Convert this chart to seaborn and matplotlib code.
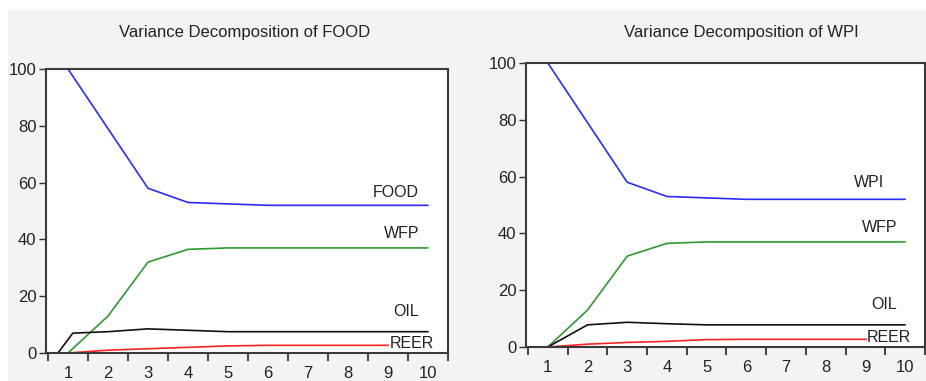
import numpy as np
import pandas as pd
import seaborn as sns
import matplotlib.pyplot as plt
from matplotlib.patches import Rectangle

# DATA
periods = [1, 2, 3, 4, 5, 6, 7, 8, 9, 10]

food_own = [100.0, 79.0, 58.0, 53.0, 52.5, 52.0, 52.0, 52.0, 52.0, 52.0]
food_wfp = [0.0, 13.0, 32.0, 36.5, 37.0, 37.0, 37.0, 37.0, 37.0, 37.0]
food_oil_periods = [0.75, 1.12, 2, 3, 4, 5, 6, 7, 8, 9, 10]
food_oil = [0.0, 7.0, 7.5, 8.5, 8.0, 7.5, 7.5, 7.5, 7.5, 7.5, 7.5]
food_reer = [0.0, 1.0, 1.5, 2.0, 2.5, 2.7, 2.7, 2.7, 2.7, 2.7]

wpi_own = [100.0, 79.0, 58.0, 53.0, 52.5, 52.0, 52.0, 52.0, 52.0, 52.0]
wpi_wfp = [0.0, 13.0, 32.0, 36.5, 37.0, 37.0, 37.0, 37.0, 37.0, 37.0]
wpi_oil = [0.0, 7.8, 8.7, 8.2, 7.8, 7.8, 7.8, 7.8, 7.8, 7.8]
wpi_reer = [0.0, 1.0, 1.6, 2.0, 2.6, 2.7, 2.7, 2.7, 2.7, 2.7]

titles = ["Variance Decomposition of FOOD", "Variance Decomposition of WPI"]
series_names = [["FOOD", "WFP", "OIL", "REER"], ["WPI", "WFP", "OIL", "REER"]]
label_pos = [
    [(9.2, 56.5), (9.35, 42), (9.45, 14.5), (9.6, 3.3)],
    [(9.1, 58), (9.35, 42), (9.47, 15), (9.6, 3.3)],
]
colors = ["#2b2bff", "#2e9a2e", "#111111", "#ff2222"]

sns.set_style("white")
plt.rcParams['font.family'] = ['Liberation Sans', 'DejaVu Sans']

fig = plt.figure(figsize=(9.26, 3.81), dpi=100)
fig.patch.set_facecolor("#f3f3f3")
# white strips at top and left of the screenshot
fig.patches.append(Rectangle((0, 1 - 10 / 381), 1, 10 / 381, transform=fig.transFigure,
                             facecolor="white", edgecolor="none", zorder=-1))
fig.patches.append(Rectangle((0, 0), 8 / 926, 1, transform=fig.transFigure,
                             facecolor="white", edgecolor="none", zorder=-1))

ax1 = fig.add_axes([46 / 926, 1 - 353 / 381, (448 - 46) / 926, (353 - 69) / 381])
ax2 = fig.add_axes([526 / 926, 1 - 347 / 381, (925 - 526) / 926, (347 - 63) / 381])

panels = [
    (ax1, [(periods, food_own), (periods, food_wfp), (food_oil_periods, food_oil), (periods, food_reer)]),
    (ax2, [(periods, wpi_own), (periods, wpi_wfp), (periods, wpi_oil), (periods, wpi_reer)]),
]
title_x = [245 / 926, 741 / 926]

for k, (ax, data) in enumerate(panels):
    for (xs, ys), c in zip(data, colors):
        df = pd.DataFrame({"period": xs, "value": ys})
        sns.lineplot(data=df, x="period", y="value", ax=ax, color=c, linewidth=1.2)
    for name, (lx, ly) in zip(series_names[k], label_pos[k]):
        ax.text(lx, ly, name, ha="center", va="center", fontsize=11.5, color="#222222",
                bbox=dict(facecolor="white", edgecolor="none", pad=0.5))
    ax.set_xlim(0.45, 10.5)
    ax.set_ylim(0, 100)
    ax.set_xticks(np.arange(0.5, 11, 1.0))
    ax.set_xticklabels([])
    ax.set_xticks(periods, minor=True)
    ax.set_xticklabels([str(p) for p in periods], minor=True)
    ax.tick_params(axis="x", which="major", bottom=True, direction="out", length=6, width=1.3,
                   color="#333333")
    ax.tick_params(axis="x", which="minor", bottom=True, length=0, pad=9, labelsize=12,
                   labelcolor="#222222")
    ax.set_yticks([0, 20, 40, 60, 80, 100])
    ax.tick_params(axis="y", left=True, direction="out", length=5, width=1.0, color="#333333",
                   labelsize=12, labelcolor="#222222", pad=2)
    ax.set_xlabel("")
    ax.set_ylabel("")
    for sp in ax.spines.values():
        sp.set_visible(True)
        sp.set_color("#3a3a3a")
        sp.set_linewidth(1.5)
    ax.set_facecolor("white")
    fig.text(title_x[k], 1 - 33 / 381, titles[k], ha="center", va="center",
             fontsize=12, color="#222222")

fig.savefig("out.png", dpi=100, facecolor=fig.get_facecolor())
